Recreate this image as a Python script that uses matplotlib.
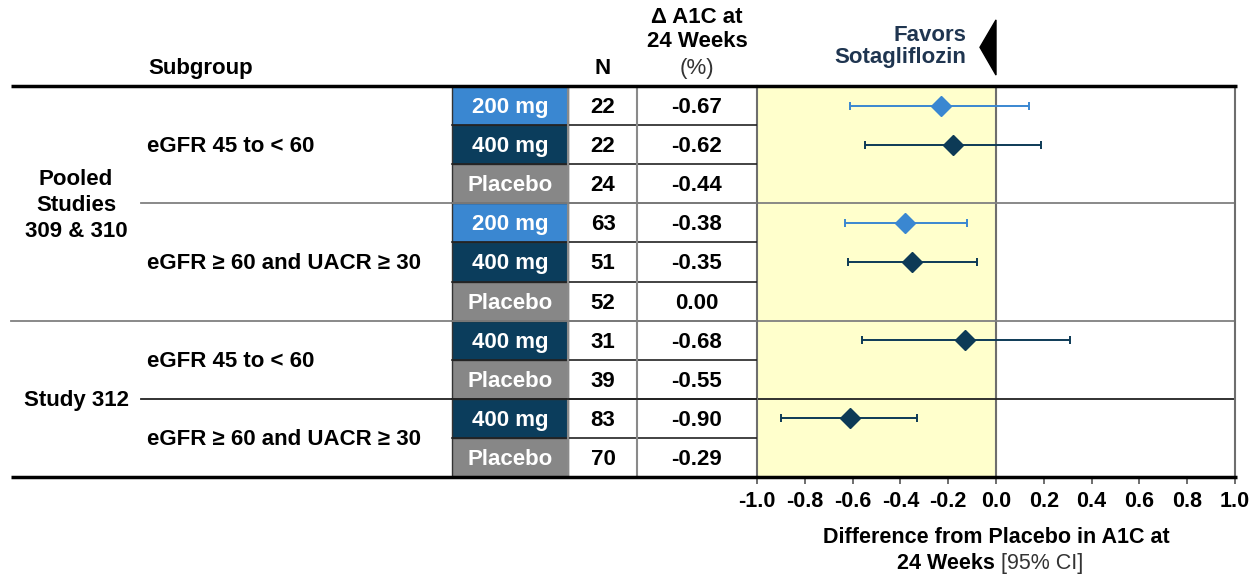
import matplotlib
matplotlib.use("Agg")
import matplotlib.pyplot as plt
from matplotlib.patches import Rectangle, Polygon
import numpy as np

plt.rcParams['font.family'] = ['Liberation Sans', 'DejaVu Sans']

# data
group_labels = ["Pooled\nStudies\n309 & 310", "Study 312"]
group_spans = [(0, 6), (6, 10)]
subgroup_labels = ["eGFR 45 to < 60", "eGFR \u2265 60 and UACR \u2265 30",
                   "eGFR 45 to < 60", "eGFR \u2265 60 and UACR \u2265 30"]
subgroup_spans = [(0, 3), (3, 6), (6, 8), (8, 10)]
doses = ["200 mg", "400 mg", "Placebo", "200 mg", "400 mg", "Placebo",
         "400 mg", "Placebo", "400 mg", "Placebo"]
n_vals = [22, 22, 24, 63, 51, 52, 31, 39, 83, 70]
a1c_change = [-0.67, -0.62, -0.44, -0.38, -0.35, 0.00, -0.68, -0.55, -0.90, -0.29]
diff = [-0.23, -0.18, None, -0.38, -0.35, None, -0.13, None, -0.61, None]
ci_low = [-0.61, -0.55, None, -0.63, -0.62, None, -0.56, None, -0.90, None]
ci_high = [0.14, 0.19, None, -0.12, -0.08, None, 0.31, None, -0.33, None]
xticks = [-1.0, -0.8, -0.6, -0.4, -0.2, 0.0, 0.2, 0.4, 0.6, 0.8, 1.0]

box_colors = {"200 mg": "#3a87d1", "400 mg": "#0b3d5c", "Placebo": "#878787"}
marker_colors = {"200 mg": "#3a87d1", "400 mg": "#0d3a56"}

FS = 16
DY = 0.05  # small downward nudge of row text
W, H = 1257, 578
fig = plt.figure(figsize=(W / 100, H / 100), dpi=100)

top_px, bot_px = 86, 477
fx0, fx1 = 757, 1235
nrows = len(doses)

# forest axes
ax = fig.add_axes([fx0 / W, (H - bot_px) / H, (fx1 - fx0) / W, (bot_px - top_px) / H])
ax.set_xlim(-1, 1)
ax.set_ylim(nrows, 0)
ax.axvspan(-1, 0, color="#ffffcc", zorder=0)
ax.axvline(0, color="#6e6e6e", lw=1.5, zorder=1)
for sp in ["top", "bottom"]:
    ax.spines[sp].set_visible(False)
for sp in ["left", "right"]:
    ax.spines[sp].set_color("#6e6e6e")
    ax.spines[sp].set_linewidth(1.5)
ax.set_yticks([])
ax.set_xticks(xticks)
ax.set_xticklabels(["%.1f" % t for t in xticks], fontsize=15.5, fontweight="bold")
ax.tick_params(axis="x", direction="out", length=5, width=1.2, color="#555555", pad=5)

for y, c in [(3, "#808080"), (6, "#808080"), (8, "#222222")]:
    ax.axhline(y, color=c, lw=1.3, zorder=1)

for i in range(nrows):
    if diff[i] is None:
        continue
    col = marker_colors[doses[i]]
    ax.errorbar(diff[i], i + 0.5, xerr=[[diff[i] - ci_low[i]], [ci_high[i] - diff[i]]],
                fmt="D", color=col, ms=10.5, mec=col, elinewidth=1.4, capsize=3,
                capthick=1.4, zorder=3)

ax.text(0.5, -0.155, "Difference from Placebo in A1C at", transform=ax.transAxes,
        ha="center", va="center", fontsize=15.5, fontweight="bold")
ax.text(0.51, -0.22, "24 Weeks ", transform=ax.transAxes,
        ha="right", va="center", fontsize=15.5, fontweight="bold")
ax.text(0.51, -0.22, "[95% CI]", transform=ax.transAxes,
        ha="left", va="center", fontsize=15.5, color="#333333")

# favors header with triangle
ax.text(-0.125, -1.3, "Favors", ha="right", va="center", fontsize=FS,
        fontweight="bold", color="#1f3550", clip_on=False)
ax.text(-0.125, -0.72, "Sotagliflozin", ha="right", va="center", fontsize=FS,
        fontweight="bold", color="#1f3550", clip_on=False)
ax.add_patch(Polygon([(0, -1.69), (0, -0.28), (-0.067, -0.99)], closed=True,
                     color="black", clip_on=False))

# table axes
tx = fig.add_axes([0, (H - bot_px) / H, fx0 / W, (bot_px - top_px) / H])
tx.set_xlim(0, fx0)
tx.set_ylim(nrows, 0)
tx.axis("off")
tx.patch.set_alpha(0)
tx.set_zorder(3)

for i, d in enumerate(doses):
    tx.add_patch(Rectangle((452, i), 116, 1, facecolor=box_colors[d],
                           edgecolor="#333333", lw=1))
    tx.text(510, i + 0.5 + DY, d, ha="center", va="center", fontsize=FS,
            fontweight="bold", color="white")
    tx.text(603, i + 0.5 + DY, str(n_vals[i]), ha="center", va="center",
            fontsize=FS, fontweight="bold")
    tx.text(697, i + 0.5 + DY, "%.2f" % a1c_change[i], ha="center", va="center",
            fontsize=FS, fontweight="bold")

for i in range(1, nrows):
    tx.plot([452, fx0], [i, i], color="#222222", lw=1.2)
for x in [568, 637]:
    tx.plot([x, x], [0, nrows], color="#8a8a8a", lw=1.5)

tx.plot([141, fx0], [3, 3], color="#808080", lw=1.3)
tx.plot([11, fx0], [6, 6], color="#808080", lw=1.3)
tx.plot([141, fx0], [8, 8], color="#222222", lw=1.3)

for (a, b), lab in zip(subgroup_spans, subgroup_labels):
    tx.text(147, (a + b) / 2 + DY, lab, ha="left", va="center", fontsize=FS, fontweight="bold")
for (a, b), lab in zip(group_spans, group_labels):
    tx.text(76, (a + b) / 2 + DY, lab, ha="center", va="center", fontsize=FS,
            fontweight="bold", linespacing=1.3)

# headers
tx.text(148, -0.46, "Subgroup", ha="left", va="center", fontsize=FS, fontweight="bold")
tx.text(603, -0.46, "N", ha="center", va="center", fontsize=FS, fontweight="bold")
tx.text(697, -1.74, "\u0394 A1C at", ha="center", va="center", fontsize=FS, fontweight="bold")
tx.text(697, -1.13, "24 Weeks", ha="center", va="center", fontsize=FS, fontweight="bold")
tx.text(697, -0.46, "(%)", ha="center", va="center", fontsize=FS, color="#333333")

# thick top/bottom rules
tx.plot([11, 1237], [0, 0], color="black", lw=2.5, clip_on=False, solid_capstyle="butt")
tx.plot([11, 1237], [nrows, nrows], color="black", lw=2.5, clip_on=False, solid_capstyle="butt")

fig.savefig("out.png", dpi=100)
